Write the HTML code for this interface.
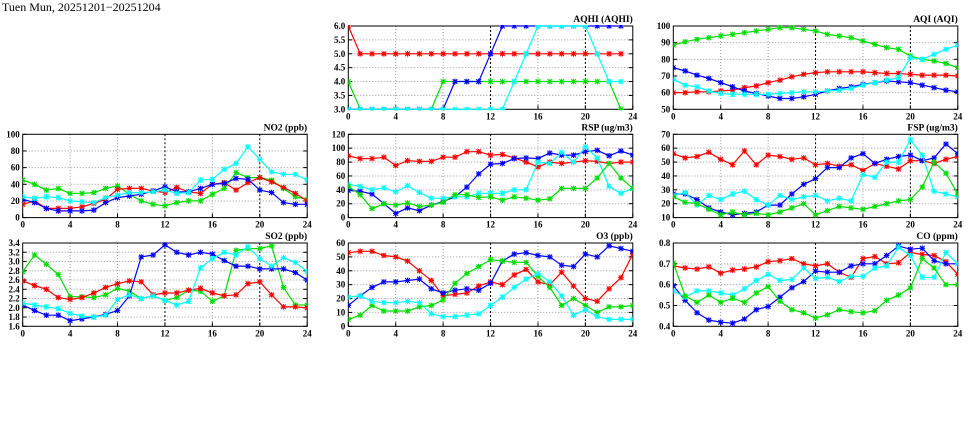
<!DOCTYPE html>
<html><head><meta charset="utf-8"><style>
html,body{margin:0;padding:0;background:#fff;width:975px;height:447px;overflow:hidden}
svg text{font-family:"Liberation Serif",serif;font-weight:bold;fill:#000}
svg text.page-title{font-weight:normal}
</style></head><body>
<svg id="chart" width="975" height="447" viewBox="0 0 975 447" xmlns="http://www.w3.org/2000/svg">
<text class="page-title" x="2" y="11" font-size="12">Tuen Mun, 20251201−20251204</text>
</svg>
<script>
const hours = [0,1,2,3,4,5,6,7,8,9,10,11,12,13,14,15,16,17,18,19,20,21,22,23,24];
const xTickLabels = [0,4,8,12,16,20,24];

const aqhiRed   = [6,5,5,5,5,5,5,5,5,5,5,5,5,5,5,5,5,5,5,5,5,5,5,5];
const aqhiGreen = [4,3,3,3,3,3,3,3,4,4,4,4,4,4,4,4,4,4,4,4,4,4,4,3];
const aqhiBlue  = [3,3,3,3,3,3,3,3,3,4,4,4,5,6,6,6,6,6,6,6,6,6,6,6];
const aqhiCyan  = [3,3,3,3,3,3,3,3,3,3,3,3,3,3,4,5,6,6,6,6,6,5,4,4];

const aqiGreen = [88.5,90.5,92,93,94,95,96,97,98,99,99,98,97,95,94,93,91,89,87,86,82,80,79,77.5,75];
const aqiRed   = [60,60,60.5,60.5,61,61.5,63,64,66,67.5,69.5,71,72,72.5,72.5,72.5,72.5,72,71.5,71.5,71,70.5,70.5,70.5,70];
const aqiBlue  = [75,73,70.5,68.5,66,63.5,61,59.5,58,56.5,56.5,57.5,59,61,62.5,63.5,65,66,67,66.5,66,64.5,63,61.5,60.5];
const aqiCyan  = [68,64.5,63.5,61,59.5,59,59,59,59,59.5,60,60.5,60.5,61,61.5,62.5,64.5,66,67.5,69,81,80,83,86,88.5];

const no2Green = [45,40,33,35,29,29,30,35,38,28,20,16,14,18,20,20,28,35,54,48,48,45,35,25,22];
const no2Red   = [16,20,11,11,11,13,17,22,34,35,35,32,30,36,31,29,40,42,33,42,48,43,36,29,20];
const no2Blue  = [22,18,11,8,8,8,9,18,24,26,28,32,37,31,31,35,40,41,47,46,33,30,18,16,16];
const no2Cyan  = [25,23,25,24,20,19,18,24,27,30,30,31,33,29,30,45,46,58,65,85,70,55,52,52,45];

const rspRed   = [89,85,85,87,75,82,81,81,87,87,95,95,90,91,86,80,73,80,78,80,82,81,78,80,80];
const rspBlue  = [39,38,34,20,6,14,10,18,23,30,44,63,77,78,85,86,85,93,90,90,95,97,89,96,90];
const rspCyan  = [48,45,40,43,37,46,36,28,28,30,30,35,35,35,40,40,80,78,94,80,102,86,45,35,42];
const rspGreen = [45,33,13,20,18,21,16,18,22,33,33,29,30,25,30,28,25,27,42,42,42,57,78,57,42];

const fspRed   = [56,53,54,57,52,48,58,48,55,54,52,53,48,49,47,48,44,49,47,45,51,51,49,52,54];
const fspBlue  = [27,27,23,17,14,12,13,14,19,19,27,34,38,46,46,53,56,49,52,54,55,51,53,63,56];
const fspCyan  = [26,28,19,26,23,27,29,23,19,26,23,25,26,22,24,22,41,39,50,50,66,55,29,27,25];
const fspGreen = [25,21,20,16,12,14,12,13,12,14,17,20,12,15,18,17,16,18,20,22,23,32,50,42,27];

const so2Green = [2.78,3.14,2.94,2.72,2.24,2.24,2.22,2.28,2.42,2.36,2.2,2.26,2.16,2.22,2.38,2.36,2.14,2.26,3.24,3.28,3.28,3.34,2.44,2.06,2.06];
const so2Red   = [2.58,2.48,2.4,2.22,2.18,2.22,2.32,2.44,2.52,2.58,2.56,2.28,2.32,2.32,2.38,2.42,2.32,2.26,2.28,2.52,2.56,2.28,2.02,2.02,2.0];
const so2Blue  = [2.06,1.94,1.84,1.84,1.72,1.76,1.8,1.86,1.94,2.26,3.1,3.14,3.36,3.2,3.14,3.2,3.16,3.02,2.9,2.9,2.84,2.84,2.84,2.76,2.6];
const so2Cyan  = [2.1,2.06,2.02,1.98,1.88,1.82,1.8,1.84,2.18,2.28,2.2,2.26,2.16,2.06,2.14,2.86,3.06,3.2,3.14,3.32,3.06,2.9,3.08,2.98,2.78];

const o3Red   = [53,54,54,51,50,47,40,33,22,23,24,29,32,30,37,41,32,30,39,29,20,18,27,35,52];
const o3Blue  = [15,22,28,32,32,33,34,27,24,26,27,26,31,47,52,53,51,50,44,43,52,50,58,56,54];
const o3Green = [5,8,15,11,11,11,14,15,19,31,38,43,48,47,46,46,36,28,15,20,15,10,14,14,15];
const o3Cyan  = [21,22,18,17,17,18,17,9,7,7,8,9,15,21,28,34,38,32,22,8,12,7,5,5,5];

const coRed   = [0.69,0.68,0.675,0.685,0.655,0.67,0.675,0.685,0.71,0.715,0.725,0.7,0.69,0.7,0.66,0.635,0.725,0.735,0.7,0.705,0.755,0.745,0.74,0.71,0.65];
const coBlue  = [0.595,0.525,0.465,0.43,0.42,0.415,0.435,0.48,0.495,0.54,0.585,0.615,0.665,0.66,0.66,0.69,0.7,0.7,0.74,0.785,0.77,0.775,0.715,0.7,0.7];
const coCyan  = [0.57,0.54,0.57,0.57,0.56,0.55,0.58,0.62,0.65,0.62,0.625,0.68,0.63,0.635,0.615,0.64,0.64,0.68,0.69,0.78,0.74,0.635,0.635,0.755,0.7];
const coGreen = [0.705,0.545,0.515,0.55,0.515,0.535,0.515,0.56,0.59,0.52,0.48,0.465,0.44,0.455,0.48,0.47,0.465,0.475,0.525,0.55,0.585,0.725,0.68,0.6,0.6];

const aqhiTicks = [3.0,3.5,4.0,4.5,5.0,5.5,6.0];
const aqiTicks  = [50,60,70,80,90,100];
const no2Ticks  = [0,20,40,60,80,100];
const rspTicks  = [0,20,40,60,80,100,120];
const fspTicks  = [10,20,30,40,50,60,70];
const so2Ticks  = [1.6,1.8,2.0,2.2,2.4,2.6,2.8,3.0,3.2,3.4];
const o3Ticks   = [0,10,20,30,40,50,60];
const coTicks   = [0.4,0.5,0.6,0.7,0.8];

const RED="#ff0000",GREEN="#00dd00",BLUE="#0000ff",CYAN="#00ffff";
const COLX=[22.7,348.3,673.3], ROWY=[26,134.3,243], PW=284.5, PH=83.3;
const panels = [
 {name:"aqhi",title:"AQHI (AQHI)",col:1,row:0,ticks:aqhiTicks,dec:1,series:[[aqhiRed,RED],[aqhiGreen,GREEN],[aqhiBlue,BLUE],[aqhiCyan,CYAN]]},
 {name:"aqi",title:"AQI (AQI)",col:2,row:0,ticks:aqiTicks,dec:0,series:[[aqiGreen,GREEN],[aqiRed,RED],[aqiBlue,BLUE],[aqiCyan,CYAN]]},
 {name:"no2",title:"NO2 (ppb)",col:0,row:1,ticks:no2Ticks,dec:0,series:[[no2Green,GREEN],[no2Red,RED],[no2Blue,BLUE],[no2Cyan,CYAN]]},
 {name:"rsp",title:"RSP (ug/m3)",col:1,row:1,ticks:rspTicks,dec:0,series:[[rspRed,RED],[rspBlue,BLUE],[rspCyan,CYAN],[rspGreen,GREEN]]},
 {name:"fsp",title:"FSP (ug/m3)",col:2,row:1,ticks:fspTicks,dec:0,series:[[fspRed,RED],[fspBlue,BLUE],[fspCyan,CYAN],[fspGreen,GREEN]]},
 {name:"so2",title:"SO2 (ppb)",col:0,row:2,ticks:so2Ticks,dec:1,series:[[so2Green,GREEN],[so2Red,RED],[so2Blue,BLUE],[so2Cyan,CYAN]]},
 {name:"o3",title:"O3 (ppb)",col:1,row:2,ticks:o3Ticks,dec:0,series:[[o3Red,RED],[o3Blue,BLUE],[o3Green,GREEN],[o3Cyan,CYAN]]},
 {name:"co",title:"CO (ppm)",col:2,row:2,ticks:coTicks,dec:1,series:[[coRed,RED],[coBlue,BLUE],[coCyan,CYAN],[coGreen,GREEN]]}
];
const svg=document.getElementById('chart');
const NS="http://www.w3.org/2000/svg";
function mk(tag,attrs,parent){const e=document.createElementNS(NS,tag);for(const k in attrs)e.setAttribute(k,attrs[k]);parent.appendChild(e);return e;}
panels.forEach(p=>{
  const x0=COLX[p.col], y0=ROWY[p.row];
  const ymin=p.ticks[0], ymax=p.ticks[p.ticks.length-1];
  const xs=h=>x0+h/24*PW;
  const ys=v=>y0+PH-(v-ymin)/(ymax-ymin)*PH;
  const g=mk('g',{},svg);
  
  
  const clipId='clip-'+p.name;
  const cp=mk('clipPath',{id:clipId},g);
  mk('rect',{x:x0,y:y0-1,width:PW,height:PH+2},cp);
  p.ticks.forEach((t,i)=>{
    const y=ys(t);
    if(i>0&&i<p.ticks.length-1){const l=mk('line',{x1:x0,x2:x0+PW,y1:y,y2:y,stroke:'#999','stroke-dasharray':'1,2','stroke-width':1},g);
      }
    mk('line',{x1:x0,x2:x0+4,y1:y,y2:y,stroke:'#000'},g);
    mk('line',{x1:x0+PW-4,x2:x0+PW,y1:y,y2:y,stroke:'#000'},g);
    const tl=mk('text',{x:x0-3,y:y+3,'font-size':9,'text-anchor':'end'},g);
    tl.textContent=t.toFixed(p.dec);
    
  });
  xTickLabels.forEach((h,i)=>{
    const x=xs(h);
    if(i>0&&i<xTickLabels.length-1){
      const dark=(h===12||h===20);
      const l=mk('line',{x1:x,x2:x,y1:y0,y2:y0+PH,stroke:dark?'#000':'#999','stroke-dasharray':dark?'2,2':'1,2'},g);
      
    }
    mk('line',{x1:x,x2:x,y1:y0+PH,y2:y0+PH-4,stroke:'#000'},g);
    const tl=mk('text',{x:x,y:y0+PH+10,'font-size':9,'text-anchor':'middle'},g);
    tl.textContent=h;
    
  });
  const fr=mk('rect',{x:x0,y:y0,width:PW,height:PH,fill:'none',stroke:'#000','stroke-width':1},g);
  
  const tt=mk('text',{x:x0+PW,y:y0-4,'font-size':9.5,'text-anchor':'end'},g);
  tt.textContent=p.title;
  
  const sg=mk('g',{'clip-path':'url(#'+clipId+')'},g);
  p.series.forEach(([vals,col])=>{
    const pts=vals.map((v,i)=>xs(hours[i]).toFixed(1)+','+ys(v).toFixed(1)).join(' ');
    const pl=mk('polyline',{points:pts,fill:'none',stroke:col,'stroke-width':1.2},sg);
    
    vals.forEach((v,i)=>{
      const cx=xs(hours[i]), cy=ys(v), r=2.3;
      const m=mk('path',{d:`M${cx-r},${cy-r}L${cx+r},${cy+r}M${cx-r},${cy+r}L${cx+r},${cy-r}M${cx-r-0.5},${cy}L${cx+r+0.5},${cy}M${cx},${cy-r-0.5}L${cx},${cy+r+0.5}`,stroke:col,'stroke-width':1.1},sg);
      
      
    });
  });
});
</script>
</body></html>
